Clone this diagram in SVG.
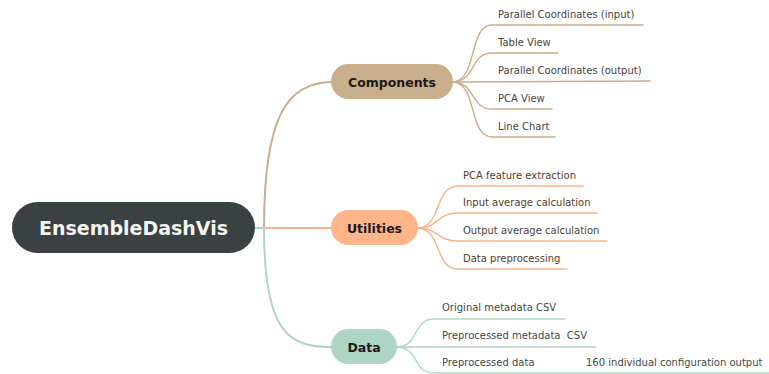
<svg xmlns="http://www.w3.org/2000/svg" width="769" height="374" viewBox="0 0 769 374">
  <style>
    .node-text { font-family: "DejaVu Sans", "Noto Sans", sans-serif; font-weight: bold; text-anchor: middle; dominant-baseline: central; }
    .leaf { font-family: "DejaVu Sans", "Noto Sans", sans-serif; font-size: 10px; white-space: pre; }
    .wire { fill: none; stroke-linecap: round; }
    .main { stroke-width: 2; }
    .sub { stroke-width: 1.4; }
    .brown { stroke: #c9ae8c; }
    .orange { stroke: #ffb088; }
    .green { stroke: #aed6c4; }
  </style>

  <!-- connectors -->
  <g id="connectors">
    <!-- root to topics -->
    <path class="wire main green" d="M254,228 L264,228"/>
    <path class="wire main brown" d="M264,228 C264,115 288,82 332,82"/>
    <path class="wire main orange" d="M264,228 L332,228"/>
    <path class="wire main green" d="M264,228 C264,335 290,347 332,347"/>

    <!-- Components branches -->
    <path class="wire sub brown" d="M452,82 C478,82 468,25 492,25 L643,25"/>
    <path class="wire sub brown" d="M452,82 C476,82 470,53 492,53 L558,53"/>
    <path class="wire sub brown" d="M452,82 L650,81"/>
    <path class="wire sub brown" d="M452,82 C476,82 470,109 492,109 L552,109"/>
    <path class="wire sub brown" d="M452,82 C478,82 468,137 492,137 L555,137"/>

    <!-- Utilities branches -->
    <path class="wire sub orange" d="M417,228 C442,228 434,186 458,186 L583,186"/>
    <path class="wire sub orange" d="M417,228 C440,228 436,213 458,213 L597,213"/>
    <path class="wire sub orange" d="M417,228 C440,228 436,241 458,241 L607,241"/>
    <path class="wire sub orange" d="M417,228 C442,228 434,269 458,269 L567,269"/>

    <!-- Data branches -->
    <path class="wire sub green" d="M396,347 C420,347 412,319 434,319 L565,319"/>
    <path class="wire sub green" d="M396,347 L596,347"/>
    <path class="wire sub green" d="M396,347 C420,347 412,373 434,373 L769,373"/>
  </g>

  <!-- central topic -->
  <g id="root">
    <rect x="12" y="202" width="243" height="51" rx="25.5" fill="#3b4143"/>
    <text class="node-text" x="133.5" y="228" font-size="19" fill="#f4f4f0">EnsembleDashVis</text>
  </g>

  <!-- main topics -->
  <g id="components">
    <rect x="331" y="64" width="122" height="35" rx="17.5" fill="#c9ae8c"/>
    <text class="node-text" x="392" y="82" font-size="12.5" fill="#1a1a1a">Components</text>
  </g>
  <g id="utilities">
    <rect x="331" y="210" width="87" height="35" rx="17.5" fill="#ffb48a"/>
    <text class="node-text" x="374.5" y="228" font-size="12.5" fill="#1a1a1a">Utilities</text>
  </g>
  <g id="data">
    <rect x="331" y="329" width="66" height="35" rx="17.5" fill="#aed5c3"/>
    <text class="node-text" x="364" y="347" font-size="12.5" fill="#1a1a1a">Data</text>
  </g>

  <!-- Components leaves -->
  <g id="pc-input"><text class="leaf" x="498" y="18" fill="#4a4440">Parallel Coordinates (input)</text></g>
  <g id="table-view"><text class="leaf" x="498" y="46" fill="#4a4440">Table View</text></g>
  <g id="pc-output"><text class="leaf" x="498" y="74" fill="#4a4440">Parallel Coordinates (output)</text></g>
  <g id="pca-view"><text class="leaf" x="498" y="102" fill="#4a4440">PCA View</text></g>
  <g id="line-chart"><text class="leaf" x="498" y="130" fill="#4a4440">Line Chart</text></g>

  <!-- Utilities leaves -->
  <g id="pca-extract"><text class="leaf" x="463" y="178.5" fill="#5a3b2c">PCA feature extraction</text></g>
  <g id="input-avg"><text class="leaf" x="463" y="205.5" fill="#5a3b2c">Input average calculation</text></g>
  <g id="output-avg"><text class="leaf" x="463" y="233.5" fill="#4a4440">Output average calculation</text></g>
  <g id="preprocessing"><text class="leaf" x="463" y="261.5" fill="#5a3b2c">Data preprocessing</text></g>

  <!-- Data leaves -->
  <g id="orig-meta"><text class="leaf" x="442" y="311" fill="#3e4a45">Original metadata CSV</text></g>
  <g id="prep-meta"><text class="leaf" x="442" y="339" fill="#3e4a45" xml:space="preserve">Preprocessed metadata  CSV</text></g>
  <g id="prep-data"><text class="leaf" x="442" y="366" fill="#3e4a45">Preprocessed data</text></g>
  <g id="config-output"><text class="leaf" x="586" y="366" fill="#3e4a45">160 individual configuration output</text></g>
</svg>
